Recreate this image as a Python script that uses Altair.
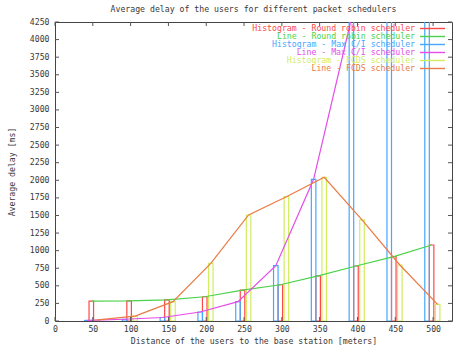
import altair as alt
import pandas as pd

# Average delay [ms] per user distance [m] for each packet scheduler
distances = [50, 100, 150, 200, 250, 300, 350, 400, 450, 500]
round_robin = [282, 285, 300, 345, 438, 515, 642, 782, 914, 1080]
max_ci = [8, 25, 50, 128, 275, 786, 2014, 4300, 9500, 19000]
fcds = [15, 70, 275, 820, 1507, 1767, 2042, 1436, 796, 237]

x_ticks = list(range(0, 501, 50))
y_ticks = list(range(0, 4251, 250))

schedulers = ["Round robin", "Max C/I", "FCDS"]
hist_labels = [f"Histogram - {s} scheduler" for s in schedulers]
line_labels = [f"Line - {s} scheduler" for s in schedulers]
hist_colors = ["#ff4747", "#47a6ff", "#d2ec60"]
line_colors = ["#4ad24a", "#e44cea", "#ea7b44"]

# side-by-side placement of the three histogram groups around each distance
shift = {"Round robin": -2, "Max C/I": -8, "FCDS": 6}
half_width = 3

rows = []
for name, hl, ll, vals in zip(schedulers, hist_labels, line_labels, [round_robin, max_ci, fcds]):
    for d, v in zip(distances, vals):
        c = d + shift[name]
        rows.append({"hist": hl, "line": ll, "x": c, "x0": c - half_width,
                     "x1": c + half_width, "delay": v})
df = pd.DataFrame(rows)

legend_order = [hist_labels[0], line_labels[0], hist_labels[1], line_labels[1],
                hist_labels[2], line_labels[2]]
legend_colors = [hist_colors[0], line_colors[0], hist_colors[1], line_colors[1],
                 hist_colors[2], line_colors[2]]

FONT = "DejaVu Sans Mono"
FS = 8.2
W, H = 397, 299
TICK = "#555"
TXT = "#383838"
X_TITLE = "Distance of the users to the base station [meters]"
Y_TITLE = "Average delay [ms]"

xs = alt.Scale(domain=[0, 525], nice=False, zero=False)
ys = alt.Scale(domain=[0, 4250], nice=False)

axis_common = dict(tickSize=0, domain=False, grid=False, labelOverlap=False,
                   labelFont=FONT, labelFontSize=FS, labelColor=TXT, labelFlush=False,
                   format="d", titleFont=FONT, titleFontSize=FS,
                   titleFontWeight="normal", titleColor=TXT)
x_axis = alt.Axis(values=x_ticks, labelPadding=4, titlePadding=5, **axis_common)
y_axis = alt.Axis(values=y_ticks, labelPadding=6, titlePadding=13, **axis_common)


def xq(field):
    return alt.X(field, type="quantitative", scale=xs, axis=x_axis, title=X_TITLE)


def yq(field):
    return alt.Y(field, type="quantitative", scale=ys, axis=y_axis, title=Y_TITLE)


color_scale = alt.Scale(domain=legend_order, range=legend_colors)

bars = alt.Chart(df).mark_bar(filled=False, strokeWidth=1.2, clip=True).encode(
    x=xq("x0"),
    x2="x1:Q",
    y=yq("delay"),
    y2=alt.datum(0),
    color=alt.Color("hist:N", scale=color_scale, legend=None),
)

lines = alt.Chart(df).mark_line(strokeWidth=1.2, clip=True).encode(
    x=xq("x"),
    y=yq("delay"),
    color=alt.Color("line:N", scale=color_scale, legend=None),
)

# inward border ticks on all four sides
ytk = pd.DataFrame({"v": y_ticks})
xtk = pd.DataFrame({"v": x_ticks})
left_ticks = alt.Chart(ytk).mark_rule(color=TICK).encode(
    y=yq("v"), x=alt.value(0), x2=alt.value(4))
right_ticks = alt.Chart(ytk).mark_rule(color=TICK).encode(
    y=yq("v"), x=alt.value(W), x2=alt.value(W - 4))
top_ticks = alt.Chart(xtk).mark_rule(color=TICK).encode(
    x=xq("v"), y=alt.value(0), y2=alt.value(4))
bottom_ticks = alt.Chart(xtk).mark_rule(color=TICK).encode(
    x=xq("v"), y=alt.value(H), y2=alt.value(H - 4))

# key in the upper right: label followed by a line sample
key_layers = []
for i, (lab, col) in enumerate(zip(legend_order, legend_colors)):
    ky = 6.5 + 8 * i
    kd = pd.DataFrame({"label": [lab]})
    key_layers.append(alt.Chart(kd).mark_text(
        align="right", baseline="middle", font=FONT, fontSize=FS, color=col
    ).encode(text="label:N", x=alt.value(360), y=alt.value(ky)))
    key_layers.append(alt.Chart(kd).mark_rule(color=col, strokeWidth=1.4).encode(
        x=alt.value(365), x2=alt.value(390), y=alt.value(ky)))

chart = alt.layer(
    bars, lines, left_ticks, right_ticks, top_ticks, bottom_ticks, *key_layers
).properties(
    width=W, height=H,
    title=alt.TitleParams("Average delay of the users for different packet schedulers",
                          font=FONT, fontSize=FS, fontWeight="normal", color=TXT,
                          anchor="middle", offset=3),
    autosize=alt.AutoSizeParams(type="none"),
    padding={"left": 55, "top": 22, "right": 1, "bottom": 25},
    background="white",
).configure_view(stroke="#444", strokeWidth=1)

chart.save("out.html", embed_options={"renderer": "svg", "actions": False})
